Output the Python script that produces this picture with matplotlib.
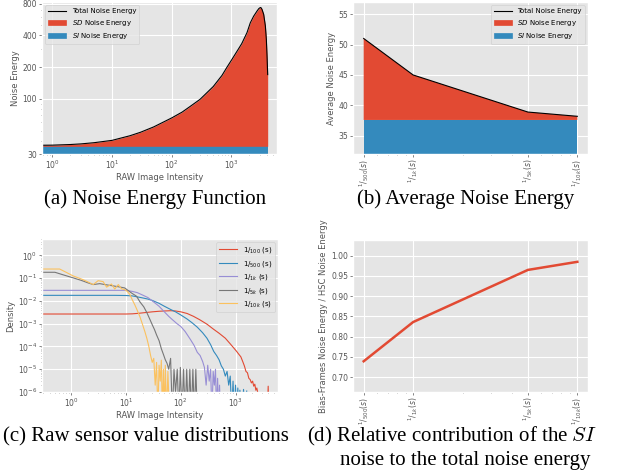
import matplotlib
matplotlib.use("Agg")
import matplotlib.pyplot as plt
from matplotlib.patches import Patch
from matplotlib.lines import Line2D
from matplotlib.ticker import NullFormatter

plt.style.use("ggplot")

# (a) Noise energy function
intensity = [0.6, 1, 2, 3, 5, 10, 20, 30, 50, 100, 150, 200, 300, 500, 700, 850,
             1000, 1300, 1500, 1836, 2090, 2375, 2705, 2900, 3080, 3180, 3290,
             3505, 3740, 3885, 3990, 4090]
total_energy = [36.3, 36.4, 36.9, 37.4, 38.4, 40.4, 44.7, 48.2, 54.2, 65.9, 74.9,
                84.0, 99.0, 131, 167, 200, 231, 293, 334, 424, 527, 608, 680, 718,
                736, 730, 705, 633, 492, 366, 255, 170]
si_level = 35.5

# (b) / (d) exposures
exposure = [500, 1000, 5000, 10000]
exposure_labels = [r"$^{1}/_{500}(s)$", r"$^{1}/_{1k}(s)$",
                   r"$^{1}/_{5k}(s)$", r"$^{1}/_{10k}(s)$"]
avg_total = [51.0, 45.0, 38.9, 38.2]
avg_si = [37.6, 37.6, 37.6, 37.6]
si_ratio = [0.739, 0.836, 0.965, 0.985]

# (c) Raw sensor value distributions
x_100 = [0.25, 0.6, 1, 2, 4, 7, 10, 13, 17, 22, 30, 40, 50, 65, 80, 100, 130, 170,
         220, 300, 400, 500, 650, 800, 950, 1050, 1150, 1250, 1350, 1450, 1550,
         1650, 1750, 1850, 1950, 2050, 2150, 2250, 2350, 2450, 2550, 2700, 3200,
         3800, 3950, 4050]
y_100 = [2.65e-3, 2.65e-3, 2.65e-3, 2.65e-3, 2.65e-3, 2.65e-3, 2.65e-3, 2.7e-3,
         2.85e-3, 3.05e-3, 3.3e-3, 3.5e-3, 3.6e-3, 3.7e-3, 3.6e-3, 3.3e-3, 2.8e-3,
         2.1e-3, 1.5e-3, 9.5e-4, 5.6e-4, 3.8e-4, 2.3e-4, 1.3e-4, 8e-5, 6e-5, 4.5e-5,
         3.5e-5, 2.2e-5, 1.4e-5, 8e-6, 7e-6, 4e-6, 3.5e-6, 2.5e-6, 3e-6, 1.8e-6,
         2.2e-6, 1.2e-6, 1.5e-6, 9e-7, 1e-7, 1e-7, 1e-7, 1.8e-6, 1e-7]

x_500 = [0.25, 1, 3, 6, 10, 13, 16, 20, 25, 30, 40, 50, 65, 80, 100, 130, 160, 200,
         250, 300, 350, 400, 450, 500, 550, 600, 650, 700, 750, 800, 850, 900, 950,
         1000, 1050, 1100, 1150, 1200, 1300, 1400, 1500, 1600]
y_500 = [1.75e-2, 1.75e-2, 1.75e-2, 1.75e-2, 1.72e-2, 1.65e-2, 1.5e-2, 1.35e-2,
         1.2e-2, 1.05e-2, 7.8e-3, 5.8e-3, 4.2e-3, 3.3e-3, 2.4e-3, 1.6e-3, 1.1e-3,
         7e-4, 4e-4, 2.3e-4, 1.2e-4, 6e-5, 4e-5, 2.6e-5, 1.4e-5, 1e-5, 5e-6, 8e-6,
         2e-6, 5e-6, 1e-7, 3e-6, 1e-7, 2e-6, 1e-7, 1.5e-6, 1e-7, 1.2e-6, 1e-7,
         1.3e-6, 1e-7, 1.1e-6]

x_1k = [0.25, 1, 3, 6, 10, 13, 16, 20, 25, 30, 35, 40, 50, 60, 70, 85, 100, 120,
        150, 175, 200, 225, 250, 270, 290, 310, 330, 350, 370, 390, 410, 430, 450,
        470, 490, 510, 530]
y_1k = [2.9e-2, 2.9e-2, 2.9e-2, 2.9e-2, 2.9e-2, 2.6e-2, 2.3e-2, 1.8e-2, 1.4e-2,
        1.0e-2, 7.5e-3, 5.8e-3, 3.3e-3, 2.1e-3, 1.5e-3, 1.0e-3, 7.5e-4, 4.5e-4,
        2.0e-4, 1.1e-4, 5.5e-5, 4e-5, 2.2e-5, 1.2e-5, 2e-6, 1.5e-5, 3e-6, 1e-5,
        1e-7, 8e-6, 2e-6, 1e-5, 1e-7, 4e-6, 1e-7, 2e-6, 1e-7]

x_5k = [0.25, 0.5, 0.7, 1, 1.5, 2, 2.5, 3.3, 4.5, 6.7, 9.4, 12.6, 15.5, 17.9, 21,
        24, 27, 30, 33, 36, 40, 44, 48, 52, 56, 60, 65, 70, 75, 80, 86, 92, 98,
        105, 112, 120, 128, 137, 146, 156, 166, 177, 188, 200]
y_5k = [0.18, 0.18, 0.14, 0.108, 0.08, 0.062, 0.052, 0.057, 0.05, 0.043, 0.037,
        0.022, 0.016, 9e-3, 5.5e-3, 3e-3, 1.6e-3, 9e-4, 5.5e-4, 3.2e-4, 1.8e-4,
        8e-5, 4.5e-5, 2.6e-5, 1.8e-5, 1e-5, 3e-5, 1e-7, 1e-5, 1e-6, 1e-5, 1e-7,
        1.2e-5, 1e-7, 1e-5, 1e-7, 1e-5, 1e-7, 1e-5, 1e-7, 1e-5, 1e-7, 1e-5, 1e-7]

x_10k = [0.25, 0.45, 0.61, 0.8, 1.07, 1.3, 1.64, 2, 2.5, 3.08, 3.8, 4.4, 5.4, 6.2,
         7.2, 8.2, 9.5, 10.5, 11.7, 13, 14.5, 16, 17.9, 20, 22, 24, 26, 28, 30, 32,
         34, 36, 38, 40, 42, 44, 46, 48, 50, 52, 55, 58, 62]
y_10k = [0.25, 0.25, 0.25, 0.18, 0.125, 0.105, 0.085, 0.068, 0.052, 0.077, 0.07,
         0.04, 0.055, 0.033, 0.052, 0.034, 0.031, 0.026, 0.019, 0.011, 6.5e-3,
         3.8e-3, 2e-3, 9e-4, 4.5e-4, 2.2e-4, 1e-4, 4e-5, 2e-5, 3e-5, 2e-6, 2e-5,
         1e-7, 1.5e-5, 3e-6, 2.5e-5, 1e-7, 1e-5, 1e-7, 1.5e-5, 1e-7, 8e-6, 1e-7]

dist_series = [
    (x_100, y_100, r"$1/_{100}$ (s)"),
    (x_500, y_500, r"$1/_{500}$ (s)"),
    (x_1k, y_1k, r"$1/_{1k}$ (s)"),
    (x_5k, y_5k, r"$1/_{5k}$ (s)"),
    (x_10k, y_10k, r"$1/_{10k}$ (s)"),
]

red, blue = "#E24A33", "#348ABD"
W, H = 629, 475
fig = plt.figure(figsize=(W / 100, H / 100), dpi=100)


def px_axes(left, top, right, bottom):
    return fig.add_axes([left / W, 1 - bottom / H, (right - left) / W, (bottom - top) / H])


def style(ax):
    ax.tick_params(labelsize=5.5, length=2, width=0.5, pad=1.5)
    ax.tick_params(which="minor", length=1, width=0.4)


# (a)
ax = px_axes(42, 2, 277, 154)
ax.set_xscale("log")
ax.set_yscale("log")
ax.fill_between(intensity, 1, si_level, color=blue, lw=0)
ax.fill_between(intensity, si_level, total_energy, color=red, lw=0)
ax.plot(intensity, total_energy, color="black", lw=0.8)
ax.set_xlim(0.67, 5860)
ax.set_ylim(30, 830)
ax.set_yticks([30, 100, 200, 400, 800])
ax.set_yticklabels(["30", "100", "200", "400", "800"])
ax.yaxis.set_minor_formatter(NullFormatter())
ax.set_xlabel("RAW Image Intensity", fontsize=6, labelpad=1)
ax.set_ylabel("Noise Energy", fontsize=6, labelpad=2)
style(ax)
handles = [Line2D([], [], color="black", lw=0.8), Patch(color=red), Patch(color=blue)]
ax.legend(handles, ["Total Noise Energy", r"$SD$ Noise Energy", r"$SI$ Noise Energy"],
          loc="upper left", fontsize=5, handlelength=2.6)

# (b)
ax = px_axes(353, 2, 588, 154)
ax.set_xscale("log")
avg_sd = [t - s for t, s in zip(avg_total, avg_si)]
ax.stackplot(exposure, avg_si, avg_sd, colors=[blue, red], lw=0)
ax.plot(exposure, avg_total, color="black", lw=0.8)
ax.set_ylim(32, 57)
ax.set_xticks(exposure)
ax.set_xticklabels(exposure_labels, rotation=90)
ax.xaxis.set_minor_formatter(NullFormatter())
ax.set_ylabel("Average Noise Energy", fontsize=6, labelpad=2)
style(ax)
ax.tick_params(axis="x", labelsize=5.5)
ax.legend(handles, ["Total Noise Energy", r"$SD$ Noise Energy", r"$SI$ Noise Energy"],
          loc="upper right", fontsize=5, handlelength=2.6)

# (c)
ax = px_axes(42, 239, 278, 392)
for xs, ys, lab in dist_series:
    ax.plot(xs, ys, lw=0.8, label=lab)
ax.set_xscale("log")
ax.set_yscale("log")
ax.set_xlim(0.29, 5970)
ax.set_ylim(1e-6, 5.2)
ax.set_xlabel("RAW Image Intensity", fontsize=6, labelpad=1)
ax.set_ylabel("Density", fontsize=6, labelpad=2)
style(ax)
ax.legend(loc="upper right", fontsize=5, handlelength=2.6)

# (d)
ax = px_axes(353, 240, 588, 392)
ax.set_xscale("log")
ax.plot(exposure, si_ratio, color=red, lw=1.8)
ax.set_ylim(0.663, 1.039)
ax.set_xticks(exposure)
ax.set_xticklabels(exposure_labels, rotation=90)
ax.xaxis.set_minor_formatter(NullFormatter())
ax.set_ylabel("Bias-Frames Noise Energy / HSC Noise Energy", fontsize=6, labelpad=2)
style(ax)
ax.tick_params(axis="x", labelsize=5.5)

# captions
cap = dict(family="Liberation Serif", fontsize=15, color="black", va="baseline",
           math_fontfamily="cm")
fig.text(155 / W, 1 - 204 / H, "(a) Noise Energy Function", ha="center", **cap)
fig.text(466 / W, 1 - 204 / H, "(b) Average Noise Energy", ha="center", **cap)
fig.text(3 / W, 1 - 441 / H, "(c) Raw sensor value distributions", ha="left", **cap)
fig.text(307 / W, 1 - 441 / H, "(d) Relative contribution of the $SI$", ha="left", **cap)
fig.text(340 / W, 1 - 465 / H, "noise to the total noise energy", ha="left", **cap)

fig.savefig("out.png", dpi=100)
